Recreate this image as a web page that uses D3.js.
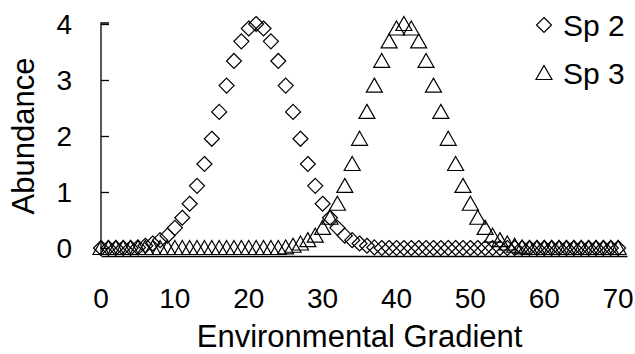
<!DOCTYPE html>
<html>
<head>
<meta charset="utf-8">
<script src="https://cdn.jsdelivr.net/npm/d3@7"></script>
<style>
  html, body { margin: 0; padding: 0; background: #fff; }
  svg { display: block; }
  text { font-family: "Liberation Sans", Arial, sans-serif; fill: #000; }
</style>
</head>
<body>
<svg id="chart" width="635" height="354"></svg>
<script>
// Positions along the environmental gradient
const gradient = [
  0, 1, 2, 3, 4, 5, 6, 7, 8, 9,
  10, 11, 12, 13, 14, 15, 16, 17, 18, 19,
  20, 21, 22, 23, 24, 25, 26, 27, 28, 29,
  30, 31, 32, 33, 34, 35, 36, 37, 38, 39,
  40, 41, 42, 43, 44, 45, 46, 47, 48, 49,
  50, 51, 52, 53, 54, 55, 56, 57, 58, 59,
  60, 61, 62, 63, 64, 65, 66, 67, 68, 69,
  70
];

// Abundance of species 2 (optimum near 21)
const sp2 = [
  0, 0, 0, 0, 0, 0.01, 0.04, 0.08, 0.14, 0.22,
  0.36, 0.54, 0.79, 1.11, 1.50, 1.95, 2.43, 2.90, 3.34, 3.69,
  3.92, 4.00, 3.92, 3.69, 3.34, 2.90, 2.43, 1.95, 1.50, 1.11,
  0.79, 0.54, 0.36, 0.22, 0.14, 0.08, 0.04, 0.01, 0, 0,
  0, 0, 0, 0, 0, 0, 0, 0, 0, 0,
  0, 0, 0, 0, 0, 0, 0, 0, 0, 0,
  0, 0, 0, 0, 0, 0, 0, 0, 0, 0,
  0
];

// Abundance of species 3 (optimum near 41)
const sp3 = [
  0, 0, 0, 0, 0, 0, 0, 0, 0, 0,
  0, 0, 0, 0, 0, 0, 0, 0, 0, 0,
  0, 0, 0, 0, 0, 0.01, 0.04, 0.08, 0.14, 0.22,
  0.36, 0.54, 0.79, 1.11, 1.50, 1.95, 2.43, 2.90, 3.34, 3.69,
  3.92, 4.00, 3.92, 3.69, 3.34, 2.90, 2.43, 1.95, 1.50, 1.11,
  0.79, 0.54, 0.36, 0.22, 0.14, 0.08, 0.04, 0.01, 0, 0,
  0, 0, 0, 0, 0, 0, 0, 0, 0, 0,
  0
];

const xTicks = [0, 10, 20, 30, 40, 50, 60, 70];
const yTicks = [0, 1, 2, 3, 4];
const seriesNames = ["Sp 2", "Sp 3"];

const svg = d3.select("#chart");

const x = d3.scaleLinear().domain([0, 71.2]).range([101, 627]);
const y = d3.scaleLinear().domain([-0.143, 4]).range([256, 24]);

// Marker shapes: open diamond and open triangle
const diamond = "M0,-7.5L7.5,0L0,7.5L-7.5,0Z";
const triangle = "M0,-7.5L8,6.5L-8,6.5Z";

// Y axis with short inward ticks
const yAxis = svg.append("g")
  .attr("transform", `translate(${x(0)},0)`)
  .call(d3.axisRight(y).tickValues(yTicks).tickSize(8).tickFormat(""));
yAxis.select(".domain").attr("d", `M8,${y(4) - 1}H0V${y.range()[0]}`);
yAxis.selectAll("line").attr("stroke-width", 1.3);
yAxis.select(".domain").attr("stroke-width", 1.3).attr("fill", "none");

svg.append("g").selectAll("text")
  .data(yTicks)
  .join("text")
  .attr("x", 72)
  .attr("y", d => y(d))
  .attr("dy", "0.36em")
  .attr("text-anchor", "end")
  .attr("font-size", 28)
  .text(d => d);

// X axis (line only, labels below)
const xAxis = svg.append("g")
  .attr("transform", `translate(0,${y.range()[0]})`)
  .call(d3.axisBottom(x).tickValues(xTicks).tickSize(0).tickFormat(""));
xAxis.select(".domain").attr("stroke-width", 1.3);

svg.append("g").selectAll("text")
  .data(xTicks)
  .join("text")
  .attr("x", d => x(d))
  .attr("y", 308)
  .attr("text-anchor", "middle")
  .attr("font-size", 28)
  .text(d => d);

// Axis titles
svg.append("text")
  .attr("x", (x(0) + x(70)) / 2)
  .attr("y", 347)
  .attr("text-anchor", "middle")
  .attr("font-size", 31)
  .text("Environmental Gradient");

svg.append("text")
  .attr("transform", `translate(34,${(y(4) + y(0)) / 2}) rotate(-90)`)
  .attr("text-anchor", "middle")
  .attr("font-size", 31)
  .text("Abundance");

// Points
const pts2 = gradient.map((g, i) => ({ g, v: sp2[i] }));
const pts3 = gradient.map((g, i) => ({ g, v: sp3[i] }));

svg.append("g").selectAll("path")
  .data(pts2)
  .join("path")
  .attr("d", diamond)
  .attr("transform", d => `translate(${x(d.g)},${y(d.v)})`)
  .attr("fill", "none")
  .attr("stroke", "#000")
  .attr("stroke-width", 1.2);

svg.append("g").selectAll("path")
  .data(pts3)
  .join("path")
  .attr("d", triangle)
  .attr("transform", d => `translate(${x(d.g)},${y(d.v)})`)
  .attr("fill", "none")
  .attr("stroke", "#000")
  .attr("stroke-width", 1.2);

// Legend
const legend = svg.append("g");
[diamond, triangle].forEach((shape, i) => {
  const cy = 25 + i * 48;
  legend.append("path")
    .attr("d", shape)
    .attr("transform", `translate(544,${cy})`)
    .attr("fill", "none")
    .attr("stroke", "#000")
    .attr("stroke-width", 1.2);
  legend.append("text")
    .attr("x", 563)
    .attr("y", cy + 11)
    .attr("font-size", 30)
    .text(seriesNames[i]);
});
</script>
</body>
</html>
